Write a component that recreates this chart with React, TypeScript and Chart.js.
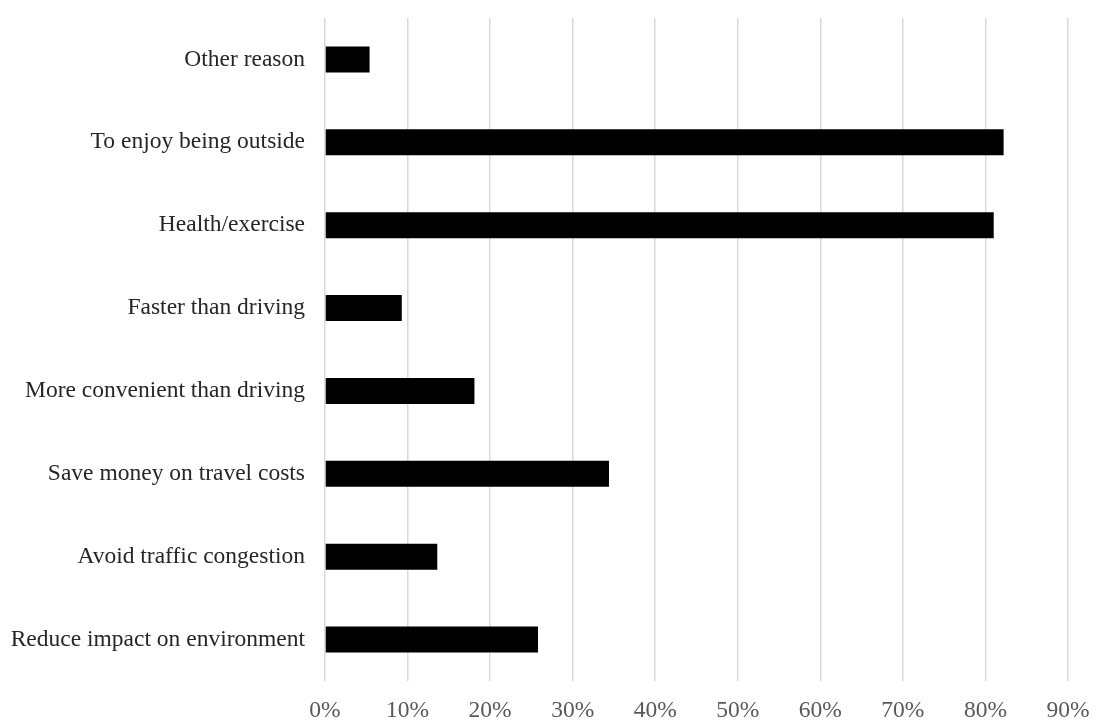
import React, { useEffect, useRef } from "react";
import { Chart, registerables } from "chart.js";

Chart.register(...registerables);

const categories: string[] = [
  "Other reason",
  "To enjoy being outside",
  "Health/exercise",
  "Faster than driving",
  "More convenient than driving",
  "Save money on travel costs",
  "Avoid traffic congestion",
  "Reduce impact on environment",
];

const shares: number[] = [5.4, 82.2, 81.0, 9.3, 18.1, 34.4, 13.6, 25.8];

const xMin = 0;
const xMax = 90;
const xStep = 10;

export default function App() {
  const ref = useRef<HTMLCanvasElement | null>(null);

  useEffect(() => {
    if (!ref.current) return;
    const font = { family: "'Liberation Serif', 'Times New Roman', serif", size: 23.5 };
    const chart = new Chart(ref.current, {
      type: "bar",
      data: {
        labels: categories,
        datasets: [
          {
            data: shares,
            backgroundColor: "#000000",
            borderWidth: 0,
            categoryPercentage: 1,
            barPercentage: 0.315,
          },
        ],
      },
      options: {
        indexAxis: "y",
        responsive: false,
        animation: false,
        maintainAspectRatio: false,
        layout: { padding: { top: 18, right: 30, bottom: 0, left: 0 } },
        plugins: {
          legend: { display: false },
          tooltip: { enabled: false },
        },
        scales: {
          x: {
            min: xMin,
            max: xMax,
            ticks: {
              stepSize: xStep,
              callback: (v: any) => v + "%",
              color: "#595959",
              font,
              padding: 16,
              maxRotation: 0,
            },
            grid: { color: "#d9d9d9", lineWidth: 1.5, drawTicks: false },
            border: { display: false },
            afterFit: (scale: any) => {
              scale.height = 44;
              scale.paddingLeft = 0;
              scale.paddingRight = 0;
            },
          },
          y: {
            ticks: { color: "#262626", font, padding: 20 },
            grid: { display: false, drawTicks: false },
            border: { display: false },
            afterFit: (scale: any) => {
              scale.width = 325;
              scale.paddingTop = 0;
              scale.paddingBottom = 0;
            },
          },
        },
      },
    });
    return () => chart.destroy();
  }, []);

  return (
    <div style={{ position: "absolute", left: 0, top: 0, width: 1098, height: 725, background: "#fff" }}>
      <canvas ref={ref} width={1098} height={725} style={{ width: 1098, height: 725 }} />
    </div>
  );
}
